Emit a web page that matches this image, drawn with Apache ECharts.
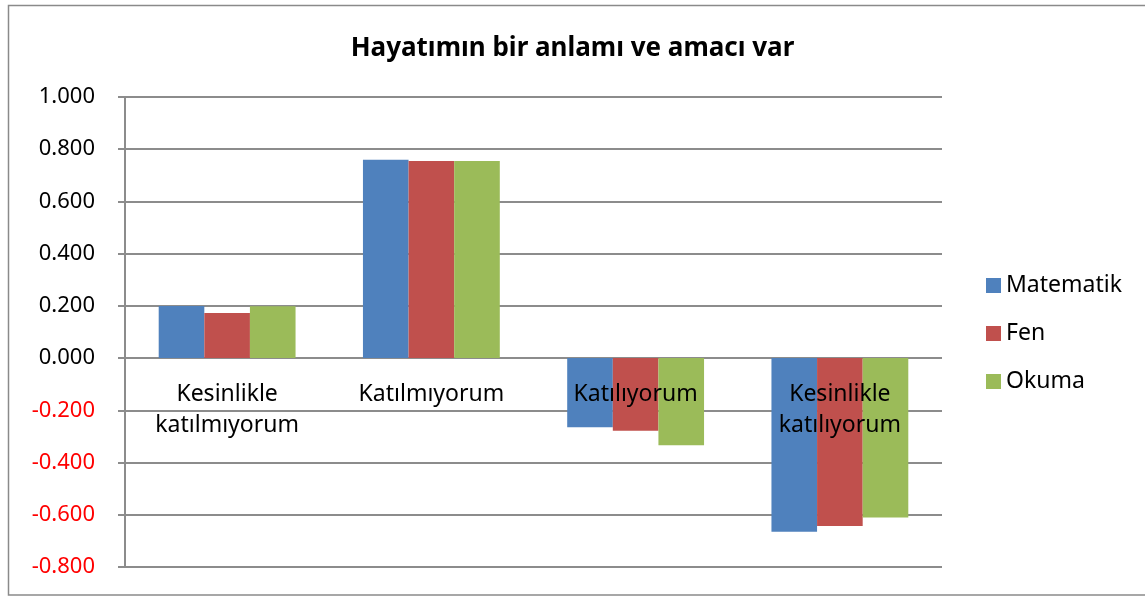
<!DOCTYPE html>
<html>
<head>
<meta charset="utf-8">
<script src="https://cdn.jsdelivr.net/npm/echarts@6/dist/echarts.min.js"></script>
<style>html,body{margin:0;padding:0;background:#fff}#c{width:1145px;height:597px}</style>
</head>
<body>
<div id="c"></div>
<script>
var title = 'Hayatımın bir anlamı ve amacı var';
var categories = ['Kesinlikle\nkatılmıyorum', 'Katılmıyorum', 'Katılıyorum', 'Kesinlikle\nkatılıyorum'];
var seriesNames = ['Matematik', 'Fen', 'Okuma'];
var matematik = [0.200, 0.760, -0.265, -0.665];
var fen = [0.173, 0.755, -0.278, -0.643];
var okuma = [0.199, 0.755, -0.334, -0.610];
var colors = ['#4F81BD', '#C0504D', '#9BBB59'];
var FONT = 'Noto Sans';

var Y_MIN = -0.8, Y_MAX = 1.0;
var GRID_TOP = 97, GRID_BOTTOM = 30, H = 597;
var plotH = H - GRID_TOP - GRID_BOTTOM;
var zeroOffset = -plotH * (0 - Y_MIN) / (Y_MAX - Y_MIN);

var chart = echarts.init(document.getElementById('c'));
var dataSets = [matematik, fen, okuma];
chart.setOption({
  animation: false,
  textStyle: {fontFamily: FONT},
  title: {
    text: title, left: 'center', top: 31,
    textStyle: {fontSize: 26, fontWeight: 'bold', color: '#000', fontFamily: FONT}
  },
  graphic: [{
    type: 'rect', shape: {x: 8.5, y: 5.5, width: 1142, height: 589.5},
    style: {fill: 'none', stroke: '#8a8a8a', lineWidth: 1.5}, silent: true
  }],
  legend: {
    orient: 'vertical', left: 986, top: 270, padding: 0,
    itemWidth: 15, itemHeight: 15, itemGap: 17,
    icon: 'rect',
    textStyle: {fontSize: 23, color: '#000', fontFamily: FONT, lineHeight: 31},
    data: seriesNames
  },
  grid: {left: 125, right: 203, top: GRID_TOP, bottom: GRID_BOTTOM, containLabel: false, outerBoundsMode: 'none'},
  xAxis: {
    type: 'category', data: categories, z: 10, offset: zeroOffset,
    axisLine: {show: false, onZero: false},
    axisTick: {show: false},
    axisLabel: {fontSize: 23, color: '#000', lineHeight: 31, margin: 21, fontFamily: FONT}
  },
  yAxis: {
    type: 'value', min: Y_MIN, max: Y_MAX, interval: 0.2,
    axisLine: {show: true, lineStyle: {color: '#8c8c8c', width: 2}},
    axisTick: {show: true, length: 7, inside: false, lineStyle: {color: '#8c8c8c', width: 2}},
    splitLine: {lineStyle: {color: '#8c8c8c', width: 2}},
    axisLabel: {
      fontSize: 22, margin: 30, fontFamily: FONT,
      formatter: function (v) { return v.toFixed(3); },
      color: function (v) { return Number(v) < -1e-9 ? '#FF0000' : '#000'; }
    }
  },
  series: seriesNames.map(function (n, i) {
    return {
      name: n, type: 'bar', data: dataSets[i],
      barGap: '0%', barCategoryGap: '33%',
      itemStyle: {color: colors[i]}
    };
  })
});
</script>
</body>
</html>
